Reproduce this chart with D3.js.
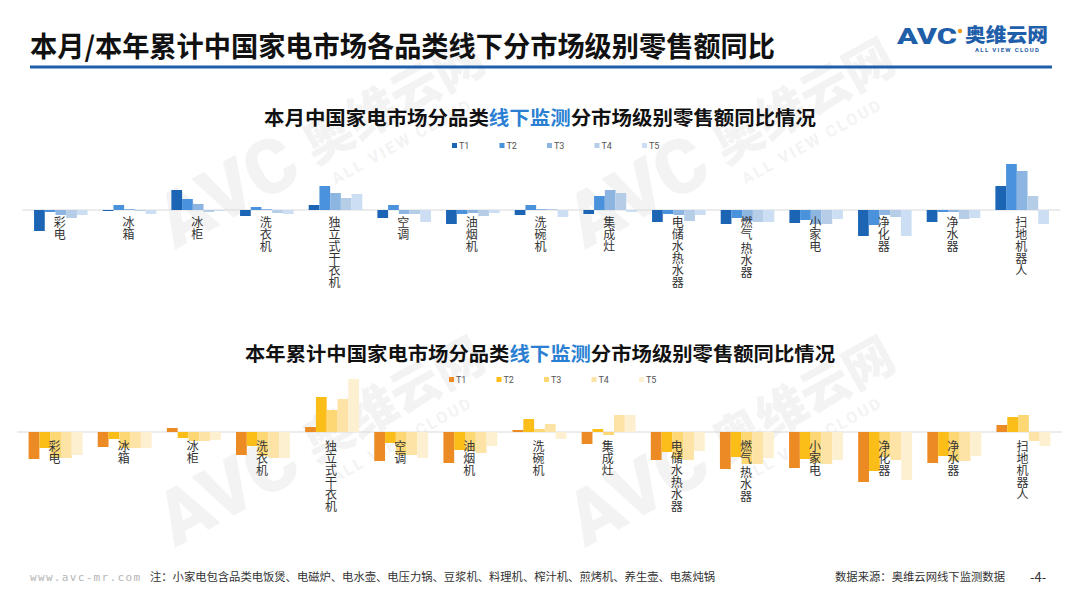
<!DOCTYPE html>
<html>
<head>
<meta charset="utf-8">
<script src="https://cdnjs.cloudflare.com/ajax/libs/d3/7.8.5/d3.min.js"></script>
<style>
  body { margin: 0; background: #fff; }
  svg { display: block; font-family: "Noto Sans CJK SC", "Noto Sans", sans-serif; }
</style>
</head>
<body>
<svg id="chart" width="1080" height="608"></svg>
<script>
// categories (vertical labels, space = small gap)
const categories = ['彩电', '冰箱', '冰柜', '洗衣机', '独立式干衣机', '空调', '油烟机', '洗碗机',
  '集成灶', '电储水热水器', '燃气 热水器', '小家电', '净化器', '净水器', '扫地机器人'];
const tiers = ['T1', 'T2', 'T3', 'T4', 'T5'];

// 本月 同比 (%)
const monthT1 = [-21, -1, 20, -6, 5, -8, -14, -5, -4, -12, -14, -13, -26, -12, 24];
const monthT2 = [-2, 5, 11, 3, 24, 5, -4, 5, 14, -4, -8, -10, -15, -2, 46];
const monthT3 = [-5, 1, 6, 1, 17, -4, -3, 1, 20, -5, -11, -14, -5, -2, 39];
const monthT4 = [-8, -1, -2, -3, 12, -4, -6, 1, 17, -11, -12, -14, -7, -9, 14];
const monthT5 = [-5, -4, -1, -4, 16, -12, -3, -7, -2, -5, -12, -9, -26, -8, -14];

// 本年累计 同比 (%)
const ytdT1 = [-27, -15, 4, -23, 5, -29, -31, 2, -12, -28, -37, -36, -50, -31, 7];
const ytdT2 = [-16, -7, -6, -14, 35, -11, -18, 13, 3, -20, -25, -27, -39, -24, 15];
const ytdT3 = [-26, -16, -9, -24, 22, -23, -19, 3, -3, -27, -32, -31, -25, -29, 17];
const ytdT4 = [-26, -16, -9, -26, 33, -23, -21, 8, 17, -28, -32, -32, -28, -29, -9];
const ytdT5 = [-23, -16, -8, -26, 53, -26, -14, -7, 17, -19, -26, -28, -48, -24, -14];

const blues = ['#1c65b5', '#4a92dc', '#8cb5e2', '#b6cde7', '#cbdef3'];
const golds = ['#ec8a24', '#fbbd17', '#fcd773', '#fde3a5', '#fdf0d0'];

const svg = d3.select('#chart');

// faint watermarks
function watermark(x, y, s) {
  const w = svg.append('g')
    .attr('transform', `translate(${x},${y}) rotate(-29) scale(${s})`)
    .attr('fill', '#000').attr('opacity', 0.045);
  w.append('text').attr('x', 0).attr('y', 0)
    .attr('font-size', 95).attr('font-weight', 900)
    .attr('font-family', 'Roboto, sans-serif').text('AVC');
  w.append('text').attr('x', 205).attr('y', -8)
    .attr('font-size', 62).attr('font-weight', 900).text('奥维云网');
  w.append('text').attr('x', 215).attr('y', 26)
    .attr('font-size', 20).attr('font-weight', 700).attr('letter-spacing', 3)
    .attr('font-family', 'Roboto, sans-serif').text('ALL VIEW CLOUD');
}
watermark(175, 250, 0.8);
watermark(585, 250, 0.8);
watermark(175, 548, 0.8);
watermark(585, 548, 0.8);

// header
svg.append('text').attr('x', 30).attr('y', 57)
  .attr('font-size', 28).attr('font-weight', 700).attr('fill', '#111')
  .attr('textLength', 745).attr('lengthAdjust', 'spacingAndGlyphs')
  .text('本月/本年累计中国家电市场各品类线下分市场级别零售额同比');
svg.append('line').attr('x1', 30).attr('x2', 1052).attr('y1', 67).attr('y2', 67)
  .attr('stroke', '#1f5ea8').attr('stroke-width', 3);

// logo
svg.append('text').attr('x', 897).attr('y', 44)
  .attr('font-size', 22).attr('font-weight', 900)
  .attr('font-family', 'Roboto, sans-serif').attr('fill', '#1f5ea8')
  .attr('textLength', 60).attr('lengthAdjust', 'spacingAndGlyphs').text('AVC');
svg.append('circle').attr('cx', 960).attr('cy', 31).attr('r', 2.2).attr('fill', '#f39a1e');
svg.append('text').attr('x', 965).attr('y', 42)
  .attr('font-size', 19).attr('font-weight', 900).attr('fill', '#1f5ea8')
  .attr('textLength', 83).attr('lengthAdjust', 'spacingAndGlyphs').text('奥维云网');
svg.append('text').attr('x', 975).attr('y', 52)
  .attr('font-size', 6).attr('font-weight', 700).attr('fill', '#1f5ea8')
  .attr('font-family', 'Roboto, sans-serif')
  .attr('textLength', 64).text('ALL VIEW CLOUD');

function subtitle(y, pre, hl, post, width) {
  const t = svg.append('text').attr('x', 540).attr('y', y).attr('text-anchor', 'middle')
    .attr('font-size', 19).attr('font-weight', 700).attr('fill', '#111')
    .attr('textLength', width).attr('lengthAdjust', 'spacingAndGlyphs');
  t.append('tspan').text(pre);
  t.append('tspan').attr('fill', '#2a7fd2').text(hl);
  t.append('tspan').text(post);
}

function drawChart(opt) {
  const series = opt.series;
  const x0 = d3.scaleBand().domain(categories).range(opt.xRange)
    .paddingInner(0.22).paddingOuter(0.11);
  const x1 = d3.scaleBand().domain(tiers).range([0, x0.bandwidth()]);
  const y = d3.scaleLinear().domain(opt.yDomain).range(opt.yRange);
  const color = d3.scaleOrdinal().domain(tiers).range(opt.colors);

  const g = svg.append('g');

  // zero line
  g.append('line').attr('x1', opt.xRange[0] - 4).attr('x2', opt.xRange[1] + 4)
    .attr('y1', y(0)).attr('y2', y(0)).attr('stroke', '#d9d9d9').attr('stroke-width', 1);

  const rows = categories.map((c, i) => ({ cat: c, vals: tiers.map((t, k) => ({ tier: t, v: series[k][i] })) }));

  const grp = g.selectAll('g.cat').data(rows).join('g')
    .attr('class', 'cat')
    .attr('transform', d => `translate(${x0(d.cat)},0)`);

  grp.selectAll('rect').data(d => d.vals).join('rect')
    .attr('x', d => x1(d.tier))
    .attr('width', x1.bandwidth())
    .attr('y', d => y(Math.max(0, d.v)))
    .attr('height', d => Math.abs(y(d.v) - y(0)))
    .attr('fill', d => color(d.tier));

  // vertical category labels
  g.selectAll('text.lab').data(categories).join('text')
    .attr('class', 'lab')
    .attr('writing-mode', 'vertical-rl')
    .attr('x', c => x0(c) + x0.bandwidth() / 2 - 1)
    .attr('y', y(0) + opt.labelOffset)
    .attr('font-size', 12).attr('fill', '#333')
    .text(c => c);

  // legend
  const lg = svg.append('g').attr('transform', `translate(${opt.legendX},${opt.legendY})`)
    .selectAll('g').data(tiers).join('g')
    .attr('transform', (d, i) => `translate(${i * 47.5},0)`);
  lg.append('rect').attr('x', 0).attr('y', -5).attr('width', 5).attr('height', 5)
    .attr('fill', d => color(d));
  lg.append('text').attr('x', 7).attr('y', 0.5)
    .attr('font-size', 9).attr('fill', '#555')
    .attr('font-family', 'Roboto, sans-serif').text(d => d);
}

subtitle(125, '本月中国家电市场分品类', '线下监测', '分市场级别零售额同比情况', 552);
drawChart({
  series: [monthT1, monthT2, monthT3, monthT4, monthT5],
  colors: blues,
  xRange: [26.5, 1056.5],
  yDomain: [-30, 50], yRange: [240, 160],
  labelOffset: 6,
  legendX: 452, legendY: 148
});

subtitle(361, '本年累计中国家电市场分品类', '线下监测', '分市场级别零售额同比情况', 590);
drawChart({
  series: [ytdT1, ytdT2, ytdT3, ytdT4, ytdT5],
  colors: golds,
  xRange: [21, 1058],
  yDomain: [-50, 55], yRange: [482, 377],
  labelOffset: 8,
  legendX: 449, legendY: 382
});

// footer
svg.append('text').attr('x', 30).attr('y', 581)
  .attr('font-size', 11).attr('fill', '#b5b5b5')
  .attr('font-family', '"DejaVu Sans Mono", monospace')
  .attr('textLength', 110).text('www.avc-mr.com');
svg.append('text').attr('x', 150).attr('y', 581)
  .attr('font-size', 11).attr('fill', '#333')
  .attr('textLength', 565).attr('lengthAdjust', 'spacingAndGlyphs')
  .text('注：小家电包含品类电饭煲、电磁炉、电水壶、电压力锅、豆浆机、料理机、榨汁机、煎烤机、养生壶、电蒸炖锅');
svg.append('text').attr('x', 835).attr('y', 581)
  .attr('font-size', 11).attr('fill', '#333')
  .attr('textLength', 170).attr('lengthAdjust', 'spacingAndGlyphs')
  .text('数据来源：奥维云网线下监测数据');
svg.append('text').attr('x', 1030).attr('y', 582)
  .attr('font-size', 13).attr('fill', '#333').text('-4-');
</script>
</body>
</html>
